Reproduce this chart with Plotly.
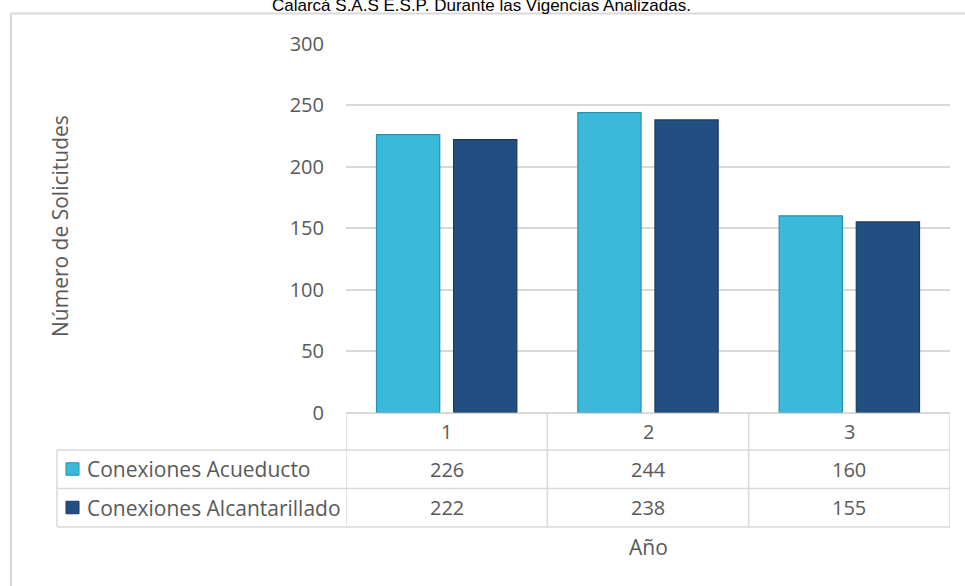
import plotly.graph_objects as go

W, H = 965, 586

title_text = "Calarcá S.A.S E.S.P. Durante las Vigencias Analizadas."
categories = ["1", "2", "3"]
series_names = ["Conexiones Acueducto", "Conexiones Alcantarillado"]
acueducto = [226, 244, 160]
alcantarillado = [222, 238, 155]
y_ticks = [0, 50, 100, 150, 200, 250, 300]
y_title = "Número de Solicitudes"
x_title = "Año"

colors = ["#3AB9DA", "#234E81"]
line_colors = ["#2B8FAE", "#1A3A62"]
text_color = "#595959"
grid_color = "#D9D9D9"
FONT = "Open Sans"
OFF = 0


def px(x):
    return (x - OFF) / W


def py(y):
    return 1 - (y - OFF) / H


PLOT_L, PLOT_R, PLOT_T, PLOT_B = 346, 950, 43.7, 412.5
ROW_Y = [450, 488.5, 527]
TABLE_L = 57

fig = go.Figure()
for name, vals, c, lc in zip(series_names, [acueducto, alcantarillado], colors, line_colors):
    fig.add_trace(go.Bar(x=categories, y=vals, name=name,
                         marker=dict(color=c, line=dict(color=lc, width=1.2)),
                         showlegend=False))

shapes = []
shapes.append(dict(type="rect", xref="paper", yref="paper",
                   x0=px(11), x1=px(990), y0=py(13.5), y1=py(620),
                   line=dict(color="#D9D9D9", width=2)))
for y in ROW_Y:
    shapes.append(dict(type="line", xref="paper", yref="paper",
                       x0=px(TABLE_L), x1=px(PLOT_R), y0=py(y), y1=py(y),
                       line=dict(color=grid_color, width=1.5)))
shapes.append(dict(type="line", xref="paper", yref="paper",
                   x0=px(TABLE_L), x1=px(TABLE_L), y0=py(ROW_Y[0]), y1=py(ROW_Y[-1]),
                   line=dict(color=grid_color, width=1.5)))
for b in [-0.5, 0.5, 1.5, 2.5]:
    shapes.append(dict(type="line", xref="x", yref="paper",
                       x0=b, x1=b, y0=py(PLOT_B), y1=py(ROW_Y[-1]),
                       line=dict(color=grid_color, width=1.5)))
for i, (c, lc) in enumerate(zip(colors, line_colors)):
    yc = (ROW_Y[i] + ROW_Y[i + 1]) / 2
    shapes.append(dict(type="rect", xref="paper", yref="paper",
                       x0=px(66), x1=px(79), y0=py(yc - 6.5), y1=py(yc + 6),
                       fillcolor=c, line=dict(color=lc, width=1)))

ann = []
ann.append(dict(text=title_text, x=px(481), y=py(5), xref="paper", yref="paper",
                showarrow=False, xanchor="center", yanchor="middle",
                font=dict(family="Liberation Sans, Arial", size=17, color="#000000")))
ann.append(dict(text=y_title, x=px(60), y=py(226), xref="paper", yref="paper",
                showarrow=False, textangle=-90, xanchor="center", yanchor="middle",
                font=dict(family=FONT, size=21, color=text_color)))
ann.append(dict(text=x_title, x=px((PLOT_L + PLOT_R) / 2), y=py(547), xref="paper", yref="paper",
                showarrow=False, xanchor="center", yanchor="middle",
                font=dict(family=FONT, size=21, color=text_color)))
for i, cat in enumerate(categories):
    ann.append(dict(text=cat, x=i, xref="x", y=py((PLOT_B + ROW_Y[0]) / 2), yref="paper",
                    showarrow=False, xanchor="center", yanchor="middle",
                    font=dict(family=FONT, size=20, color=text_color)))
for r, (name, vals) in enumerate(zip(series_names, [acueducto, alcantarillado])):
    yc = (ROW_Y[r] + ROW_Y[r + 1]) / 2
    ann.append(dict(text=name, x=px(85), y=py(yc), xref="paper", yref="paper",
                    showarrow=False, xanchor="left", yanchor="middle",
                    font=dict(family=FONT, size=21, color=text_color)))
    for i, v in enumerate(vals):
        ann.append(dict(text=str(v), x=i, xref="x", y=py(yc), yref="paper",
                        showarrow=False, xanchor="center", yanchor="middle",
                        font=dict(family=FONT, size=20, color=text_color)))

fig.update_layout(
    width=W, height=H,
    margin=dict(l=0, r=0, t=0, b=0, autoexpand=False),
    paper_bgcolor="white", plot_bgcolor="white",
    barmode="group", bargap=0.234, bargroupgap=0.18,
    xaxis=dict(domain=[px(PLOT_L), px(PLOT_R)], type="category",
               categoryorder="array", categoryarray=categories,
               showticklabels=False, showgrid=False, zeroline=False, automargin=False,
               showline=False, ticks="", range=[-0.5, 2.5]),
    yaxis=dict(domain=[py(PLOT_B), py(PLOT_T)], range=[0, 300], automargin=False,
               tickvals=y_ticks, showgrid=True, gridcolor=grid_color, gridwidth=1.5,
               zeroline=True, zerolinecolor=grid_color, zerolinewidth=1.5,
               showline=False, ticks="", ticklabelstandoff=21,
               tickfont=dict(family=FONT, size=20, color=text_color)),
    shapes=shapes,
    annotations=ann,
)

fig.write_html("out.html",
               config={"displayModeBar": False},
               post_script="document.body.style.margin='0';document.body.style.overflow='hidden';")
